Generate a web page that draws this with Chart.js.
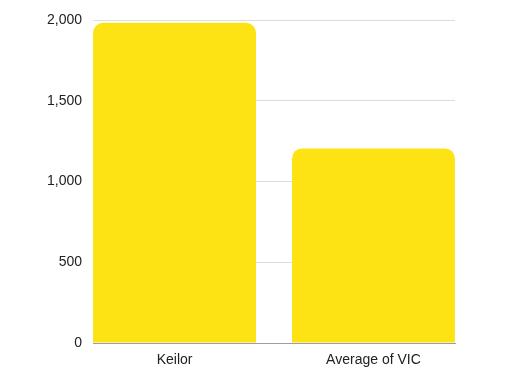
<!DOCTYPE html>
<html>
<head>
<meta charset="utf-8">
<script src="https://cdn.jsdelivr.net/npm/chart.js@4/dist/chart.umd.min.js"></script>
<style>
  html, body { margin: 0; padding: 0; background: #fff; }
  #wrap { width: 505px; height: 379px; }
</style>
</head>
<body>
<div id="wrap"><canvas id="barChart" width="505" height="379"></canvas></div>
<script>
const categories = ['Keilor', 'Average of VIC'];
const values = [1983, 1205];
const yTicks = [0, 500, 1000, 1500, 2000];

document.addEventListener('DOMContentLoaded', function() {
    const ctx = document.getElementById('barChart');

    new Chart(ctx, {
        type: 'bar',
        data: {
            datasets: [{
                data: values.map((v, i) => ({ x: i, y: v })),
                backgroundColor: '#FDE314',
                borderRadius: { topLeft: 10, topRight: 10 },
                borderSkipped: 'bottom',
                categoryPercentage: 1,
                barPercentage: 0.819
            }]
        },
        options: {
            responsive: false,
            animation: false,
            layout: { padding: { top: 20, right: 50, bottom: 0, left: 0 } },
            plugins: { legend: { display: false }, tooltip: { enabled: false } },
            scales: {
                x: {
                    type: 'linear',
                    offset: false,
                    min: -0.41,
                    max: 1.41,
                    afterBuildTicks: scale => {
                        scale.ticks = categories.map((c, i) => ({ value: i }));
                    },
                    afterFit: scale => { scale.height = 36; },
                    grid: { display: false },
                    border: { display: true, color: '#9e9e9e', width: 1 },
                    ticks: {
                        callback: v => categories[v],
                        color: '#222',
                        padding: 1,
                        maxRotation: 0,
                        font: { family: 'Liberation Sans', size: 14 }
                    }
                },
                y: {
                    min: 0,
                    max: 2000,
                    afterBuildTicks: scale => {
                        scale.ticks = yTicks.map(v => ({ value: v }));
                    },
                    afterFit: scale => { scale.width = 93; },
                    grid: { color: '#dcdcdc', drawTicks: false },
                    border: { display: false },
                    ticks: {
                        color: '#222',
                        padding: 11,
                        callback: v => v.toLocaleString('en-US'),
                        font: { family: 'Liberation Sans', size: 14 }
                    }
                }
            }
        }
    });
});
</script>
</body>
</html>
